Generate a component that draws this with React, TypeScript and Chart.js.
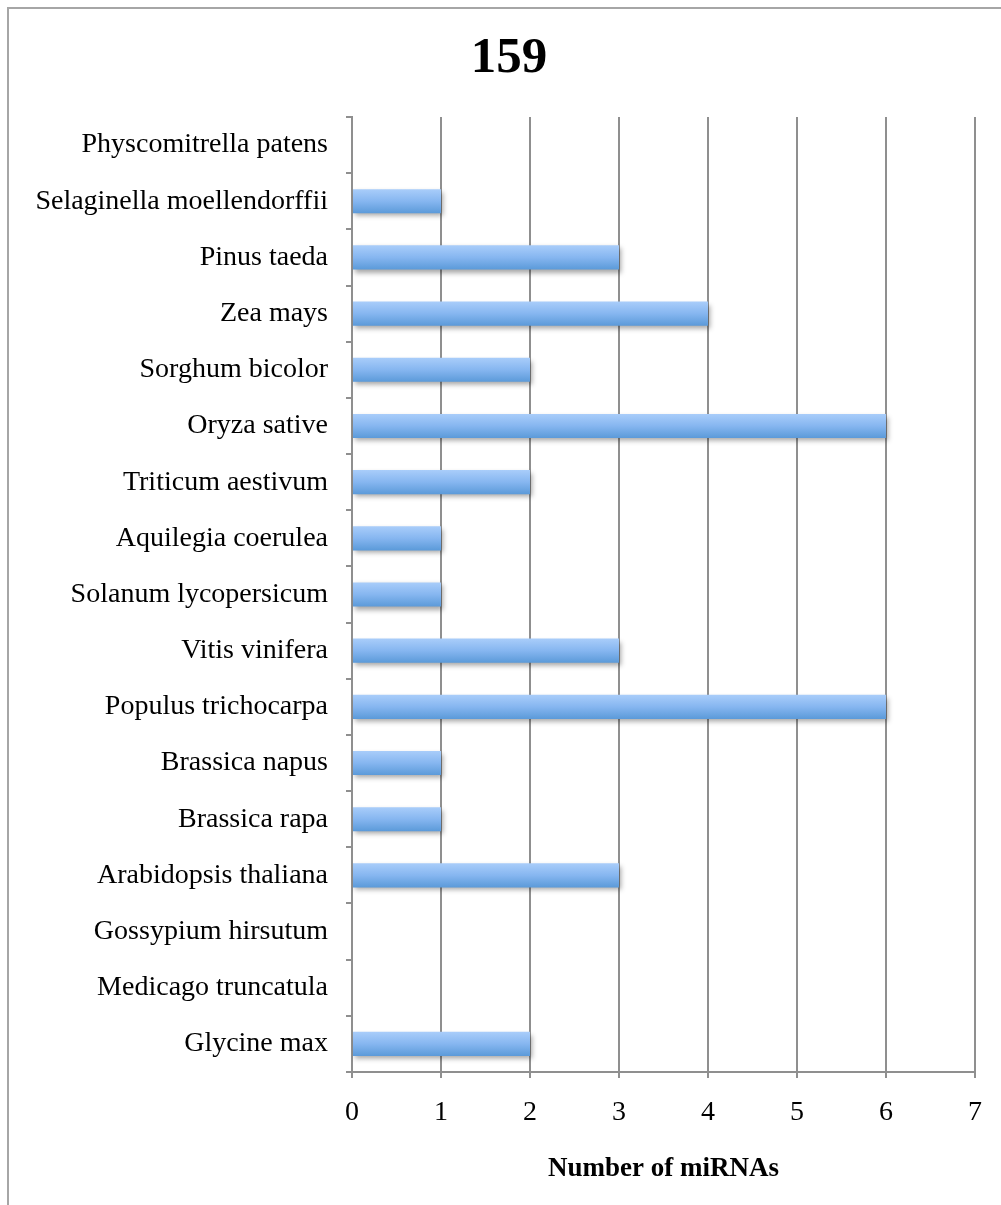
import React, { useEffect, useRef } from "react";
import { Chart, registerables } from "chart.js";

Chart.register(...registerables);

const species: string[] = [
  "Physcomitrella patens",
  "Selaginella moellendorffii",
  "Pinus taeda",
  "Zea mays",
  "Sorghum bicolor",
  "Oryza sative",
  "Triticum aestivum",
  "Aquilegia coerulea",
  "Solanum lycopersicum",
  "Vitis vinifera",
  "Populus trichocarpa",
  "Brassica napus",
  "Brassica rapa",
  "Arabidopsis thaliana",
  "Gossypium hirsutum",
  "Medicago truncatula",
  "Glycine max",
];

const mirnaCounts: number[] = [0, 1, 3, 4, 2, 6, 2, 1, 1, 3, 6, 1, 1, 3, 0, 0, 2];

const xTicks: number[] = [0, 1, 2, 3, 4, 5, 6, 7];

const chartTitle = "159";
const xAxisTitle = "Number of miRNAs";

const BAR_PCT = 0.43;
const SERIF = "'Liberation Serif', 'Times New Roman', serif";
const GRID = "#8f8f8f";
const LABEL_SIZE = 28;

// outer frame of the chart object
const framePlugin = {
  id: "frame",
  beforeDraw(chart: any) {
    const ctx = chart.ctx;
    ctx.save();
    ctx.fillStyle = "#ffffff";
    ctx.fillRect(0, 0, chart.width, chart.height);
    ctx.strokeStyle = "#a6a6a6";
    ctx.lineWidth = 2;
    ctx.strokeRect(8, 8, chart.width + 40, chart.height + 40);
    ctx.restore();
  },
};

// chart heading, centred over the whole frame rather than the plot
const headingPlugin = {
  id: "heading",
  afterDraw(chart: any) {
    const ctx = chart.ctx;
    ctx.save();
    ctx.fillStyle = "#000000";
    ctx.font = `bold 51px ${SERIF}`;
    ctx.textAlign = "center";
    ctx.textBaseline = "middle";
    ctx.fillText(chartTitle, 509, 59);
    ctx.restore();
  },
};

// soft drop shadow under the bars
const shadowPlugin = {
  id: "barShadow",
  beforeDatasetsDraw(chart: any) {
    const ctx = chart.ctx;
    ctx.save();
    ctx.shadowColor = "rgba(0,0,0,0.35)";
    ctx.shadowBlur = 5;
    ctx.shadowOffsetX = 2;
    ctx.shadowOffsetY = 3;
  },
  afterDatasetsDraw(chart: any) {
    chart.ctx.restore();
  },
};

export default function App() {
  const canvasRef = useRef<HTMLCanvasElement | null>(null);

  useEffect(() => {
    document.body.style.margin = "0";
    const canvas = canvasRef.current;
    if (!canvas) return;

    const chart = new Chart(canvas, {
      type: "bar",
      data: {
        labels: species,
        datasets: [
          {
            data: mirnaCounts,
            borderWidth: 0,
            barPercentage: BAR_PCT,
            categoryPercentage: 1,
            backgroundColor: (context: any) => {
              const c = context.chart;
              const yScale = c.scales && c.scales.y;
              if (!yScale || !c.chartArea) return "#7fb2ec";
              const center = yScale.getPixelForValue(context.dataIndex);
              const half = ((c.chartArea.bottom - c.chartArea.top) / species.length) * BAR_PCT / 2;
              const g = c.ctx.createLinearGradient(0, center - half, 0, center + half);
              g.addColorStop(0, "#a9cdfa");
              g.addColorStop(0.5, "#86b6f0");
              g.addColorStop(1, "#5b9ad9");
              return g;
            },
          },
        ],
      },
      options: {
        indexAxis: "y",
        animation: false,
        responsive: false,
        maintainAspectRatio: false,
        layout: { padding: { left: 0, right: 26, top: 117, bottom: 0 } },
        plugins: {
          legend: { display: false },
          tooltip: { enabled: false },
          title: { display: false },
        },
        scales: {
          x: {
            min: 0,
            max: 7,
            ticks: {
              stepSize: 1,
              color: "#000000",
              padding: 18,
              font: { family: SERIF, size: LABEL_SIZE },
              callback: (v: any) => (xTicks.includes(Number(v)) ? String(v) : ""),
            },
            grid: {
              color: GRID,
              lineWidth: 2,
              tickLength: 6,
              drawTicks: true,
            },
            border: { color: GRID, width: 2 },
            title: {
              display: true,
              text: xAxisTitle,
              color: "#000000",
              font: { family: SERIF, size: 27, weight: "bold", lineHeight: 1.2 },
              padding: { top: 0, bottom: 20 },
            },
            afterFit: (scale: any) => {
              scale.height = 133;
            },
          },
          y: {
            ticks: {
              color: "#000000",
              padding: 18,
              font: { family: SERIF, size: LABEL_SIZE },
              autoSkip: false,
            },
            grid: {
              drawOnChartArea: false,
              offset: true,
              color: GRID,
              lineWidth: 2,
              tickLength: 6,
            },
            border: { color: GRID, width: 2 },
            afterFit: (scale: any) => {
              scale.width = 352;
            },
          },
        },
      },
      plugins: [framePlugin, shadowPlugin, headingPlugin],
    } as any);

    return () => chart.destroy();
  }, []);

  return (
    <div style={{ width: 1001, height: 1205 }}>
      <canvas ref={canvasRef} width={1001} height={1205} style={{ display: "block" }} />
    </div>
  );
}
